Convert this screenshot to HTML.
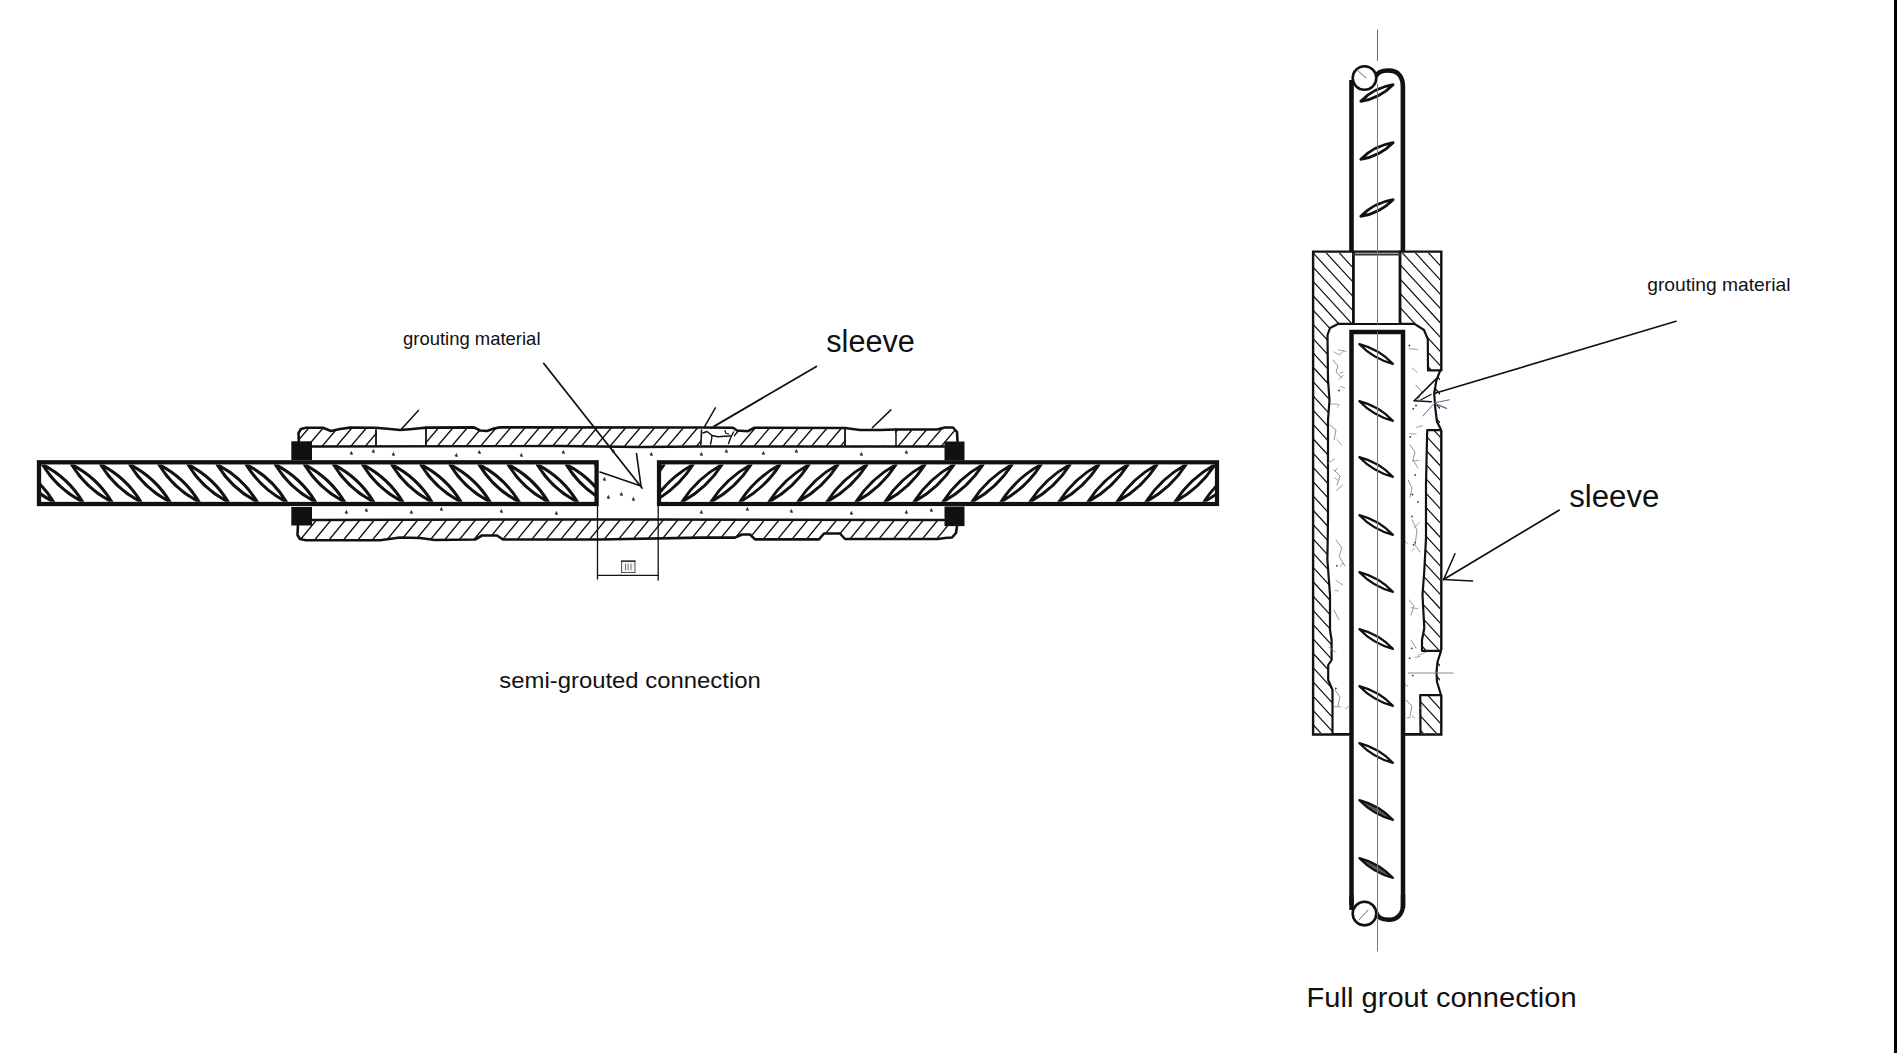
<!DOCTYPE html><html><head><meta charset="utf-8"><style>html,body{margin:0;padding:0;background:#fff;overflow:hidden;width:1897px;height:1053px;}svg{display:block}text{font-family:"Liberation Sans",sans-serif;fill:#111}</style></head><body>
<svg width="1897" height="1053" viewBox="0 0 1897 1053">
<defs>
<clipPath id="cl1"><rect x="41" y="464.5" width="554" height="37.3"/></clipPath>
<clipPath id="cl2"><rect x="661" y="464.5" width="554" height="37.3"/></clipPath>
<clipPath id="ctop"><path d="M299,446 L298.5,433 L301,429 L306,427.8 L323,427.7 L331,431 L340,429 L350,427.6 L375.4,427.8 L390,429 L400,430 L410,429.2 L420,428.2 L426,427.6 L474,427.4 L480,430.5 L487,431 L494,428.5 L500,427.4 L700,427.5 L733,427.7 L737,430.5 L748,431.2 L754,427.8 L845,428 L860,430 L880,430 L896,429.5 L937,429.5 L945,427.5 L953,427.5 L957,432 L957.5,441 L957.5,441 L944,446.5 L700,446.5 L640,447 L560,446 L312,446.5 L299,446Z"/></clipPath>
<clipPath id="cbot"><path d="M298,524 L297.5,535 L300,539 L306,540.3 L380,540.3 L400,537.5 L420,538 L435,540 L475,539.5 L482,535.5 L497,535.5 L503,539.5 L600,539.5 L700,537.6 L735,537.6 L742,534.5 L750,534.5 L755,539.4 L819,539.4 L824,533.5 L840,533.5 L845,539 L938,539 L945,538 L952,537.5 L956,533 L957,526 L957,526 L944,520 L640,519.5 L520,519.5 L312,520 L298,524Z"/></clipPath>
<clipPath id="crtL"><path d="M1314,253 L1377,253 L1377,733 L1314,733 Z"/></clipPath>
<clipPath id="crtR"><path d="M1377,253 L1440,253 L1440,733 L1377,733 Z"/></clipPath>
</defs>
<rect width="1897" height="1053" fill="#fff"/>
<rect x="1894" y="0" width="3" height="1053" fill="#000"/>
<g clip-path="url(#ctop)"><line x1="219.8" y1="448.0" x2="236.8" y2="428.0" stroke="#111" stroke-width="1.35" stroke-linecap="round" /><line x1="234.2" y1="448.0" x2="251.2" y2="428.0" stroke="#111" stroke-width="1.35" stroke-linecap="round" /><line x1="248.6" y1="448.0" x2="265.6" y2="428.0" stroke="#111" stroke-width="1.35" stroke-linecap="round" /><line x1="262.9" y1="448.0" x2="279.9" y2="428.0" stroke="#111" stroke-width="1.35" stroke-linecap="round" /><line x1="277.4" y1="448.0" x2="294.4" y2="428.0" stroke="#111" stroke-width="1.35" stroke-linecap="round" /><line x1="291.8" y1="448.0" x2="308.8" y2="428.0" stroke="#111" stroke-width="1.35" stroke-linecap="round" /><line x1="306.1" y1="448.0" x2="323.1" y2="428.0" stroke="#111" stroke-width="1.35" stroke-linecap="round" /><line x1="320.6" y1="448.0" x2="337.6" y2="428.0" stroke="#111" stroke-width="1.35" stroke-linecap="round" /><line x1="334.9" y1="448.0" x2="351.9" y2="428.0" stroke="#111" stroke-width="1.35" stroke-linecap="round" /><line x1="349.4" y1="448.0" x2="366.4" y2="428.0" stroke="#111" stroke-width="1.35" stroke-linecap="round" /><line x1="363.8" y1="448.0" x2="380.8" y2="428.0" stroke="#111" stroke-width="1.35" stroke-linecap="round" /><line x1="378.1" y1="448.0" x2="395.1" y2="428.0" stroke="#111" stroke-width="1.35" stroke-linecap="round" /><line x1="392.6" y1="448.0" x2="409.6" y2="428.0" stroke="#111" stroke-width="1.35" stroke-linecap="round" /><line x1="406.9" y1="448.0" x2="423.9" y2="428.0" stroke="#111" stroke-width="1.35" stroke-linecap="round" /><line x1="421.4" y1="448.0" x2="438.4" y2="428.0" stroke="#111" stroke-width="1.35" stroke-linecap="round" /><line x1="435.8" y1="448.0" x2="452.8" y2="428.0" stroke="#111" stroke-width="1.35" stroke-linecap="round" /><line x1="450.1" y1="448.0" x2="467.1" y2="428.0" stroke="#111" stroke-width="1.35" stroke-linecap="round" /><line x1="464.6" y1="448.0" x2="481.6" y2="428.0" stroke="#111" stroke-width="1.35" stroke-linecap="round" /><line x1="479.0" y1="448.0" x2="496.0" y2="428.0" stroke="#111" stroke-width="1.35" stroke-linecap="round" /><line x1="493.4" y1="448.0" x2="510.4" y2="428.0" stroke="#111" stroke-width="1.35" stroke-linecap="round" /><line x1="507.8" y1="448.0" x2="524.8" y2="428.0" stroke="#111" stroke-width="1.35" stroke-linecap="round" /><line x1="522.1" y1="448.0" x2="539.1" y2="428.0" stroke="#111" stroke-width="1.35" stroke-linecap="round" /><line x1="536.5" y1="448.0" x2="553.5" y2="428.0" stroke="#111" stroke-width="1.35" stroke-linecap="round" /><line x1="551.0" y1="448.0" x2="568.0" y2="428.0" stroke="#111" stroke-width="1.35" stroke-linecap="round" /><line x1="565.4" y1="448.0" x2="582.4" y2="428.0" stroke="#111" stroke-width="1.35" stroke-linecap="round" /><line x1="579.8" y1="448.0" x2="596.8" y2="428.0" stroke="#111" stroke-width="1.35" stroke-linecap="round" /><line x1="594.2" y1="448.0" x2="611.2" y2="428.0" stroke="#111" stroke-width="1.35" stroke-linecap="round" /><line x1="608.5" y1="448.0" x2="625.5" y2="428.0" stroke="#111" stroke-width="1.35" stroke-linecap="round" /><line x1="623.0" y1="448.0" x2="640.0" y2="428.0" stroke="#111" stroke-width="1.35" stroke-linecap="round" /><line x1="637.4" y1="448.0" x2="654.4" y2="428.0" stroke="#111" stroke-width="1.35" stroke-linecap="round" /><line x1="651.8" y1="448.0" x2="668.8" y2="428.0" stroke="#111" stroke-width="1.35" stroke-linecap="round" /><line x1="666.2" y1="448.0" x2="683.2" y2="428.0" stroke="#111" stroke-width="1.35" stroke-linecap="round" /><line x1="680.5" y1="448.0" x2="697.5" y2="428.0" stroke="#111" stroke-width="1.35" stroke-linecap="round" /><line x1="695.0" y1="448.0" x2="712.0" y2="428.0" stroke="#111" stroke-width="1.35" stroke-linecap="round" /><line x1="709.4" y1="448.0" x2="726.4" y2="428.0" stroke="#111" stroke-width="1.35" stroke-linecap="round" /><line x1="723.8" y1="448.0" x2="740.8" y2="428.0" stroke="#111" stroke-width="1.35" stroke-linecap="round" /><line x1="738.2" y1="448.0" x2="755.2" y2="428.0" stroke="#111" stroke-width="1.35" stroke-linecap="round" /><line x1="752.5" y1="448.0" x2="769.5" y2="428.0" stroke="#111" stroke-width="1.35" stroke-linecap="round" /><line x1="767.0" y1="448.0" x2="784.0" y2="428.0" stroke="#111" stroke-width="1.35" stroke-linecap="round" /><line x1="781.4" y1="448.0" x2="798.4" y2="428.0" stroke="#111" stroke-width="1.35" stroke-linecap="round" /><line x1="795.8" y1="448.0" x2="812.8" y2="428.0" stroke="#111" stroke-width="1.35" stroke-linecap="round" /><line x1="810.1" y1="448.0" x2="827.1" y2="428.0" stroke="#111" stroke-width="1.35" stroke-linecap="round" /><line x1="824.6" y1="448.0" x2="841.6" y2="428.0" stroke="#111" stroke-width="1.35" stroke-linecap="round" /><line x1="839.0" y1="448.0" x2="856.0" y2="428.0" stroke="#111" stroke-width="1.35" stroke-linecap="round" /><line x1="853.4" y1="448.0" x2="870.4" y2="428.0" stroke="#111" stroke-width="1.35" stroke-linecap="round" /><line x1="867.8" y1="448.0" x2="884.8" y2="428.0" stroke="#111" stroke-width="1.35" stroke-linecap="round" /><line x1="882.1" y1="448.0" x2="899.1" y2="428.0" stroke="#111" stroke-width="1.35" stroke-linecap="round" /><line x1="896.6" y1="448.0" x2="913.6" y2="428.0" stroke="#111" stroke-width="1.35" stroke-linecap="round" /><line x1="911.0" y1="448.0" x2="928.0" y2="428.0" stroke="#111" stroke-width="1.35" stroke-linecap="round" /><line x1="925.4" y1="448.0" x2="942.4" y2="428.0" stroke="#111" stroke-width="1.35" stroke-linecap="round" /><line x1="939.8" y1="448.0" x2="956.8" y2="428.0" stroke="#111" stroke-width="1.35" stroke-linecap="round" /><line x1="954.1" y1="448.0" x2="971.1" y2="428.0" stroke="#111" stroke-width="1.35" stroke-linecap="round" /><line x1="968.6" y1="448.0" x2="985.6" y2="428.0" stroke="#111" stroke-width="1.35" stroke-linecap="round" /><line x1="983.0" y1="448.0" x2="1000.0" y2="428.0" stroke="#111" stroke-width="1.35" stroke-linecap="round" /><line x1="997.4" y1="448.0" x2="1014.4" y2="428.0" stroke="#111" stroke-width="1.35" stroke-linecap="round" /><line x1="1011.8" y1="448.0" x2="1028.8" y2="428.0" stroke="#111" stroke-width="1.35" stroke-linecap="round" /><line x1="1026.2" y1="448.0" x2="1043.2" y2="428.0" stroke="#111" stroke-width="1.35" stroke-linecap="round" /><line x1="1040.6" y1="448.0" x2="1057.6" y2="428.0" stroke="#111" stroke-width="1.35" stroke-linecap="round" /><line x1="1055.0" y1="448.0" x2="1072.0" y2="428.0" stroke="#111" stroke-width="1.35" stroke-linecap="round" /><line x1="1069.3" y1="448.0" x2="1086.3" y2="428.0" stroke="#111" stroke-width="1.35" stroke-linecap="round" /><line x1="1083.8" y1="448.0" x2="1100.8" y2="428.0" stroke="#111" stroke-width="1.35" stroke-linecap="round" /><line x1="1098.2" y1="448.0" x2="1115.2" y2="428.0" stroke="#111" stroke-width="1.35" stroke-linecap="round" /><line x1="1112.6" y1="448.0" x2="1129.6" y2="428.0" stroke="#111" stroke-width="1.35" stroke-linecap="round" /><line x1="1127.0" y1="448.0" x2="1144.0" y2="428.0" stroke="#111" stroke-width="1.35" stroke-linecap="round" /><line x1="1141.3" y1="448.0" x2="1158.3" y2="428.0" stroke="#111" stroke-width="1.35" stroke-linecap="round" /></g>
<g clip-path="url(#cbot)"><line x1="212.6" y1="541.0" x2="230.6" y2="519.0" stroke="#111" stroke-width="1.35" stroke-linecap="round" /><line x1="227.1" y1="541.0" x2="245.1" y2="519.0" stroke="#111" stroke-width="1.35" stroke-linecap="round" /><line x1="241.5" y1="541.0" x2="259.5" y2="519.0" stroke="#111" stroke-width="1.35" stroke-linecap="round" /><line x1="256.0" y1="541.0" x2="274.0" y2="519.0" stroke="#111" stroke-width="1.35" stroke-linecap="round" /><line x1="270.4" y1="541.0" x2="288.4" y2="519.0" stroke="#111" stroke-width="1.35" stroke-linecap="round" /><line x1="284.9" y1="541.0" x2="302.9" y2="519.0" stroke="#111" stroke-width="1.35" stroke-linecap="round" /><line x1="299.3" y1="541.0" x2="317.3" y2="519.0" stroke="#111" stroke-width="1.35" stroke-linecap="round" /><line x1="313.8" y1="541.0" x2="331.8" y2="519.0" stroke="#111" stroke-width="1.35" stroke-linecap="round" /><line x1="328.2" y1="541.0" x2="346.2" y2="519.0" stroke="#111" stroke-width="1.35" stroke-linecap="round" /><line x1="342.7" y1="541.0" x2="360.7" y2="519.0" stroke="#111" stroke-width="1.35" stroke-linecap="round" /><line x1="357.1" y1="541.0" x2="375.1" y2="519.0" stroke="#111" stroke-width="1.35" stroke-linecap="round" /><line x1="371.6" y1="541.0" x2="389.6" y2="519.0" stroke="#111" stroke-width="1.35" stroke-linecap="round" /><line x1="386.0" y1="541.0" x2="404.0" y2="519.0" stroke="#111" stroke-width="1.35" stroke-linecap="round" /><line x1="400.5" y1="541.0" x2="418.5" y2="519.0" stroke="#111" stroke-width="1.35" stroke-linecap="round" /><line x1="414.9" y1="541.0" x2="432.9" y2="519.0" stroke="#111" stroke-width="1.35" stroke-linecap="round" /><line x1="429.4" y1="541.0" x2="447.4" y2="519.0" stroke="#111" stroke-width="1.35" stroke-linecap="round" /><line x1="443.8" y1="541.0" x2="461.8" y2="519.0" stroke="#111" stroke-width="1.35" stroke-linecap="round" /><line x1="458.3" y1="541.0" x2="476.3" y2="519.0" stroke="#111" stroke-width="1.35" stroke-linecap="round" /><line x1="472.8" y1="541.0" x2="490.8" y2="519.0" stroke="#111" stroke-width="1.35" stroke-linecap="round" /><line x1="487.2" y1="541.0" x2="505.2" y2="519.0" stroke="#111" stroke-width="1.35" stroke-linecap="round" /><line x1="501.6" y1="541.0" x2="519.6" y2="519.0" stroke="#111" stroke-width="1.35" stroke-linecap="round" /><line x1="516.1" y1="541.0" x2="534.1" y2="519.0" stroke="#111" stroke-width="1.35" stroke-linecap="round" /><line x1="530.5" y1="541.0" x2="548.5" y2="519.0" stroke="#111" stroke-width="1.35" stroke-linecap="round" /><line x1="545.0" y1="541.0" x2="563.0" y2="519.0" stroke="#111" stroke-width="1.35" stroke-linecap="round" /><line x1="559.5" y1="541.0" x2="577.5" y2="519.0" stroke="#111" stroke-width="1.35" stroke-linecap="round" /><line x1="573.9" y1="541.0" x2="591.9" y2="519.0" stroke="#111" stroke-width="1.35" stroke-linecap="round" /><line x1="588.3" y1="541.0" x2="606.3" y2="519.0" stroke="#111" stroke-width="1.35" stroke-linecap="round" /><line x1="602.8" y1="541.0" x2="620.8" y2="519.0" stroke="#111" stroke-width="1.35" stroke-linecap="round" /><line x1="617.2" y1="541.0" x2="635.2" y2="519.0" stroke="#111" stroke-width="1.35" stroke-linecap="round" /><line x1="631.7" y1="541.0" x2="649.7" y2="519.0" stroke="#111" stroke-width="1.35" stroke-linecap="round" /><line x1="646.1" y1="541.0" x2="664.1" y2="519.0" stroke="#111" stroke-width="1.35" stroke-linecap="round" /><line x1="660.6" y1="541.0" x2="678.6" y2="519.0" stroke="#111" stroke-width="1.35" stroke-linecap="round" /><line x1="675.0" y1="541.0" x2="693.0" y2="519.0" stroke="#111" stroke-width="1.35" stroke-linecap="round" /><line x1="689.5" y1="541.0" x2="707.5" y2="519.0" stroke="#111" stroke-width="1.35" stroke-linecap="round" /><line x1="703.9" y1="541.0" x2="721.9" y2="519.0" stroke="#111" stroke-width="1.35" stroke-linecap="round" /><line x1="718.4" y1="541.0" x2="736.4" y2="519.0" stroke="#111" stroke-width="1.35" stroke-linecap="round" /><line x1="732.8" y1="541.0" x2="750.8" y2="519.0" stroke="#111" stroke-width="1.35" stroke-linecap="round" /><line x1="747.3" y1="541.0" x2="765.3" y2="519.0" stroke="#111" stroke-width="1.35" stroke-linecap="round" /><line x1="761.8" y1="541.0" x2="779.8" y2="519.0" stroke="#111" stroke-width="1.35" stroke-linecap="round" /><line x1="776.2" y1="541.0" x2="794.2" y2="519.0" stroke="#111" stroke-width="1.35" stroke-linecap="round" /><line x1="790.6" y1="541.0" x2="808.6" y2="519.0" stroke="#111" stroke-width="1.35" stroke-linecap="round" /><line x1="805.1" y1="541.0" x2="823.1" y2="519.0" stroke="#111" stroke-width="1.35" stroke-linecap="round" /><line x1="819.5" y1="541.0" x2="837.5" y2="519.0" stroke="#111" stroke-width="1.35" stroke-linecap="round" /><line x1="834.0" y1="541.0" x2="852.0" y2="519.0" stroke="#111" stroke-width="1.35" stroke-linecap="round" /><line x1="848.4" y1="541.0" x2="866.4" y2="519.0" stroke="#111" stroke-width="1.35" stroke-linecap="round" /><line x1="862.9" y1="541.0" x2="880.9" y2="519.0" stroke="#111" stroke-width="1.35" stroke-linecap="round" /><line x1="877.3" y1="541.0" x2="895.3" y2="519.0" stroke="#111" stroke-width="1.35" stroke-linecap="round" /><line x1="891.8" y1="541.0" x2="909.8" y2="519.0" stroke="#111" stroke-width="1.35" stroke-linecap="round" /><line x1="906.2" y1="541.0" x2="924.2" y2="519.0" stroke="#111" stroke-width="1.35" stroke-linecap="round" /><line x1="920.7" y1="541.0" x2="938.7" y2="519.0" stroke="#111" stroke-width="1.35" stroke-linecap="round" /><line x1="935.1" y1="541.0" x2="953.1" y2="519.0" stroke="#111" stroke-width="1.35" stroke-linecap="round" /><line x1="949.6" y1="541.0" x2="967.6" y2="519.0" stroke="#111" stroke-width="1.35" stroke-linecap="round" /><line x1="964.0" y1="541.0" x2="982.0" y2="519.0" stroke="#111" stroke-width="1.35" stroke-linecap="round" /><line x1="978.5" y1="541.0" x2="996.5" y2="519.0" stroke="#111" stroke-width="1.35" stroke-linecap="round" /><line x1="992.9" y1="541.0" x2="1010.9" y2="519.0" stroke="#111" stroke-width="1.35" stroke-linecap="round" /><line x1="1007.4" y1="541.0" x2="1025.4" y2="519.0" stroke="#111" stroke-width="1.35" stroke-linecap="round" /><line x1="1021.8" y1="541.0" x2="1039.8" y2="519.0" stroke="#111" stroke-width="1.35" stroke-linecap="round" /><line x1="1036.3" y1="541.0" x2="1054.3" y2="519.0" stroke="#111" stroke-width="1.35" stroke-linecap="round" /><line x1="1050.8" y1="541.0" x2="1068.8" y2="519.0" stroke="#111" stroke-width="1.35" stroke-linecap="round" /><line x1="1065.2" y1="541.0" x2="1083.2" y2="519.0" stroke="#111" stroke-width="1.35" stroke-linecap="round" /><line x1="1079.7" y1="541.0" x2="1097.7" y2="519.0" stroke="#111" stroke-width="1.35" stroke-linecap="round" /><line x1="1094.1" y1="541.0" x2="1112.1" y2="519.0" stroke="#111" stroke-width="1.35" stroke-linecap="round" /><line x1="1108.5" y1="541.0" x2="1126.5" y2="519.0" stroke="#111" stroke-width="1.35" stroke-linecap="round" /><line x1="1123.0" y1="541.0" x2="1141.0" y2="519.0" stroke="#111" stroke-width="1.35" stroke-linecap="round" /><line x1="1137.4" y1="541.0" x2="1155.4" y2="519.0" stroke="#111" stroke-width="1.35" stroke-linecap="round" /></g>
<rect x="377" y="429" width="48" height="16.5" fill="#fff"/>
<rect x="846" y="429" width="49" height="16.5" fill="#fff"/>
<rect x="701" y="429" width="33" height="16.5" fill="#fff"/>
<line x1="376.0" y1="430.0" x2="376.0" y2="446.0" stroke="#111" stroke-width="1.8" stroke-linecap="round" /><line x1="426.0" y1="428.0" x2="426.0" y2="446.0" stroke="#111" stroke-width="1.8" stroke-linecap="round" />
<line x1="845.0" y1="428.0" x2="845.0" y2="446.0" stroke="#111" stroke-width="1.8" stroke-linecap="round" /><line x1="896.0" y1="429.0" x2="896.0" y2="446.0" stroke="#111" stroke-width="1.5" stroke-linecap="round" />
<path d="M701.5,430.0 L701.3,437.0 L700.8,444.5" fill="none" stroke="#111" stroke-width="1.6" stroke-linejoin="round" stroke-linecap="round"/>
<path d="M703.0,433.0 L707.0,431.5 L709.0,433.0 L712.0,435.5 L718.0,436.8 L725.0,436.2 L731.0,436.0" fill="none" stroke="#111" stroke-width="1.4" stroke-linejoin="round" stroke-linecap="round"/>
<path d="M712.0,435.5 L711.5,440.0 L710.5,444.0" fill="none" stroke="#111" stroke-width="1.4" stroke-linejoin="round" stroke-linecap="round"/>
<path d="M725.0,430.5 L726.0,433.5 L729.0,434.0" fill="none" stroke="#111" stroke-width="1.2" stroke-linejoin="round" stroke-linecap="round"/>
<path d="M733.5,432.0 L731.0,437.0 L728.5,443.5" fill="none" stroke="#111" stroke-width="1.4" stroke-linejoin="round" stroke-linecap="round"/>
<path d="M299.0,446.0 L298.5,433.0 L301.0,429.0 L306.0,427.8 L323.0,427.7 L331.0,431.0 L340.0,429.0 L350.0,427.6 L375.4,427.8 L390.0,429.0 L400.0,430.0 L410.0,429.2 L420.0,428.2 L426.0,427.6 L474.0,427.4 L480.0,430.5 L487.0,431.0 L494.0,428.5 L500.0,427.4 L700.0,427.5 L733.0,427.7 L737.0,430.5 L748.0,431.2 L754.0,427.8 L845.0,428.0 L860.0,430.0 L880.0,430.0 L896.0,429.5 L937.0,429.5 L945.0,427.5 L953.0,427.5 L957.0,432.0 L957.5,441.0" fill="none" stroke="#111" stroke-width="2.6" stroke-linejoin="round" stroke-linecap="round"/>
<path d="M312.0,446.5 L560.0,446.0 L640.0,447.0 L700.0,446.5 L944.0,446.5" fill="none" stroke="#111" stroke-width="2.4" stroke-linejoin="round" stroke-linecap="round"/>
<path d="M312.0,520.0 L520.0,519.5 L640.0,519.5 L944.0,520.0" fill="none" stroke="#111" stroke-width="2.4" stroke-linejoin="round" stroke-linecap="round"/>
<path d="M298.0,524.0 L297.5,535.0 L300.0,539.0 L306.0,540.3 L380.0,540.3 L400.0,537.5 L420.0,538.0 L435.0,540.0 L475.0,539.5 L482.0,535.5 L497.0,535.5 L503.0,539.5 L600.0,539.5 L700.0,537.6 L735.0,537.6 L742.0,534.5 L750.0,534.5 L755.0,539.4 L819.0,539.4 L824.0,533.5 L840.0,533.5 L845.0,539.0 L938.0,539.0 L945.0,538.0 L952.0,537.5 L956.0,533.0 L957.0,526.0" fill="none" stroke="#111" stroke-width="2.6" stroke-linejoin="round" stroke-linecap="round"/>
<rect x="291.3" y="441.3" width="20.7" height="18.7" fill="#111"/>
<rect x="291.3" y="507" width="20.7" height="18.5" fill="#111"/>
<rect x="944.5" y="441.5" width="20" height="19" fill="#111"/>
<rect x="944.5" y="506.5" width="20" height="19.6" fill="#111"/>
<path d="M350,454 l1.5,-2.5 l1,3 z" fill="#333" stroke="#333" stroke-width="0.8"/>
<path d="M372,452 l1.5,-2.5 l1,3 z" fill="#333" stroke="#333" stroke-width="0.8"/>
<path d="M392,455 l1.5,-2.5 l1,3 z" fill="#333" stroke="#333" stroke-width="0.8"/>
<path d="M455,456 l1.5,-2.5 l1,3 z" fill="#333" stroke="#333" stroke-width="0.8"/>
<path d="M478,453 l1.5,-2.5 l1,3 z" fill="#333" stroke="#333" stroke-width="0.8"/>
<path d="M520,456 l1.5,-2.5 l1,3 z" fill="#333" stroke="#333" stroke-width="0.8"/>
<path d="M562,453 l1.5,-2.5 l1,3 z" fill="#333" stroke="#333" stroke-width="0.8"/>
<path d="M612,452 l1.5,-2.5 l1,3 z" fill="#333" stroke="#333" stroke-width="0.8"/>
<path d="M607,498 l1.5,-2.5 l1,3 z" fill="#333" stroke="#333" stroke-width="0.8"/>
<path d="M620,495 l1.5,-2.5 l1,3 z" fill="#333" stroke="#333" stroke-width="0.8"/>
<path d="M632,500 l1.5,-2.5 l1,3 z" fill="#333" stroke="#333" stroke-width="0.8"/>
<path d="M603,480 l1.5,-2.5 l1,3 z" fill="#333" stroke="#333" stroke-width="0.8"/>
<path d="M650,455 l1.5,-2.5 l1,3 z" fill="#333" stroke="#333" stroke-width="0.8"/>
<path d="M700,455 l1.5,-2.5 l1,3 z" fill="#333" stroke="#333" stroke-width="0.8"/>
<path d="M725,452 l1.5,-2.5 l1,3 z" fill="#333" stroke="#333" stroke-width="0.8"/>
<path d="M762,454 l1.5,-2.5 l1,3 z" fill="#333" stroke="#333" stroke-width="0.8"/>
<path d="M795,452 l1.5,-2.5 l1,3 z" fill="#333" stroke="#333" stroke-width="0.8"/>
<path d="M860,455 l1.5,-2.5 l1,3 z" fill="#333" stroke="#333" stroke-width="0.8"/>
<path d="M905,453 l1.5,-2.5 l1,3 z" fill="#333" stroke="#333" stroke-width="0.8"/>
<path d="M345,513 l1.5,-2.5 l1,3 z" fill="#333" stroke="#333" stroke-width="0.8"/>
<path d="M365,511 l1.5,-2.5 l1,3 z" fill="#333" stroke="#333" stroke-width="0.8"/>
<path d="M410,513 l1.5,-2.5 l1,3 z" fill="#333" stroke="#333" stroke-width="0.8"/>
<path d="M440,510 l1.5,-2.5 l1,3 z" fill="#333" stroke="#333" stroke-width="0.8"/>
<path d="M500,512 l1.5,-2.5 l1,3 z" fill="#333" stroke="#333" stroke-width="0.8"/>
<path d="M555,514 l1.5,-2.5 l1,3 z" fill="#333" stroke="#333" stroke-width="0.8"/>
<path d="M700,513 l1.5,-2.5 l1,3 z" fill="#333" stroke="#333" stroke-width="0.8"/>
<path d="M746,510 l1.5,-2.5 l1,3 z" fill="#333" stroke="#333" stroke-width="0.8"/>
<path d="M790,512 l1.5,-2.5 l1,3 z" fill="#333" stroke="#333" stroke-width="0.8"/>
<path d="M850,514 l1.5,-2.5 l1,3 z" fill="#333" stroke="#333" stroke-width="0.8"/>
<path d="M905,513 l1.5,-2.5 l1,3 z" fill="#333" stroke="#333" stroke-width="0.8"/>
<path d="M930,511 l1.5,-2.5 l1,3 z" fill="#333" stroke="#333" stroke-width="0.8"/>
<g clip-path="url(#cl1)"><path d="M13.5,464.6 Q28.2,488.9 53.5,501.8 Q38.8,477.5 13.5,464.6Z" fill="#fff" stroke="#111" stroke-width="3.1" stroke-linejoin="round"/><path d="M42.6,464.6 Q57.3,488.9 82.6,501.8 Q67.9,477.5 42.6,464.6Z" fill="#fff" stroke="#111" stroke-width="3.1" stroke-linejoin="round"/><path d="M71.7,464.6 Q86.4,488.9 111.7,501.8 Q97.0,477.5 71.7,464.6Z" fill="#fff" stroke="#111" stroke-width="3.1" stroke-linejoin="round"/><path d="M100.8,464.6 Q115.5,488.9 140.8,501.8 Q126.1,477.5 100.8,464.6Z" fill="#fff" stroke="#111" stroke-width="3.1" stroke-linejoin="round"/><path d="M129.9,464.6 Q144.6,488.9 169.9,501.8 Q155.2,477.5 129.9,464.6Z" fill="#fff" stroke="#111" stroke-width="3.1" stroke-linejoin="round"/><path d="M159.0,464.6 Q173.7,488.9 199.0,501.8 Q184.3,477.5 159.0,464.6Z" fill="#fff" stroke="#111" stroke-width="3.1" stroke-linejoin="round"/><path d="M188.1,464.6 Q202.8,488.9 228.1,501.8 Q213.4,477.5 188.1,464.6Z" fill="#fff" stroke="#111" stroke-width="3.1" stroke-linejoin="round"/><path d="M217.2,464.6 Q231.9,488.9 257.2,501.8 Q242.5,477.5 217.2,464.6Z" fill="#fff" stroke="#111" stroke-width="3.1" stroke-linejoin="round"/><path d="M246.3,464.6 Q261.0,488.9 286.3,501.8 Q271.6,477.5 246.3,464.6Z" fill="#fff" stroke="#111" stroke-width="3.1" stroke-linejoin="round"/><path d="M275.4,464.6 Q290.1,488.9 315.4,501.8 Q300.7,477.5 275.4,464.6Z" fill="#fff" stroke="#111" stroke-width="3.1" stroke-linejoin="round"/><path d="M304.5,464.6 Q319.2,488.9 344.5,501.8 Q329.8,477.5 304.5,464.6Z" fill="#fff" stroke="#111" stroke-width="3.1" stroke-linejoin="round"/><path d="M333.6,464.6 Q348.3,488.9 373.6,501.8 Q358.9,477.5 333.6,464.6Z" fill="#fff" stroke="#111" stroke-width="3.1" stroke-linejoin="round"/><path d="M362.7,464.6 Q377.4,488.9 402.7,501.8 Q388.0,477.5 362.7,464.6Z" fill="#fff" stroke="#111" stroke-width="3.1" stroke-linejoin="round"/><path d="M391.8,464.6 Q406.5,488.9 431.8,501.8 Q417.1,477.5 391.8,464.6Z" fill="#fff" stroke="#111" stroke-width="3.1" stroke-linejoin="round"/><path d="M420.9,464.6 Q435.6,488.9 460.9,501.8 Q446.2,477.5 420.9,464.6Z" fill="#fff" stroke="#111" stroke-width="3.1" stroke-linejoin="round"/><path d="M450.0,464.6 Q464.7,488.9 490.0,501.8 Q475.3,477.5 450.0,464.6Z" fill="#fff" stroke="#111" stroke-width="3.1" stroke-linejoin="round"/><path d="M479.1,464.6 Q493.8,488.9 519.1,501.8 Q504.4,477.5 479.1,464.6Z" fill="#fff" stroke="#111" stroke-width="3.1" stroke-linejoin="round"/><path d="M508.2,464.6 Q522.9,488.9 548.2,501.8 Q533.5,477.5 508.2,464.6Z" fill="#fff" stroke="#111" stroke-width="3.1" stroke-linejoin="round"/><path d="M537.3,464.6 Q552.0,488.9 577.3,501.8 Q562.6,477.5 537.3,464.6Z" fill="#fff" stroke="#111" stroke-width="3.1" stroke-linejoin="round"/><path d="M566.4,464.6 Q581.1,488.9 606.4,501.8 Q591.7,477.5 566.4,464.6Z" fill="#fff" stroke="#111" stroke-width="3.1" stroke-linejoin="round"/><path d="M595.5,464.6 Q610.2,488.9 635.5,501.8 Q620.8,477.5 595.5,464.6Z" fill="#fff" stroke="#111" stroke-width="3.1" stroke-linejoin="round"/></g>
<g clip-path="url(#cl2)"><path d="M624.0,501.8 Q648.8,488.3 664.0,464.6 Q639.2,478.1 624.0,501.8Z" fill="#fff" stroke="#111" stroke-width="2.9" stroke-linejoin="round"/><path d="M653.0,501.8 Q677.8,488.3 693.0,464.6 Q668.2,478.1 653.0,501.8Z" fill="#fff" stroke="#111" stroke-width="2.9" stroke-linejoin="round"/><path d="M682.0,501.8 Q706.8,488.3 722.0,464.6 Q697.2,478.1 682.0,501.8Z" fill="#fff" stroke="#111" stroke-width="2.9" stroke-linejoin="round"/><path d="M711.0,501.8 Q735.8,488.3 751.0,464.6 Q726.2,478.1 711.0,501.8Z" fill="#fff" stroke="#111" stroke-width="2.9" stroke-linejoin="round"/><path d="M740.0,501.8 Q764.8,488.3 780.0,464.6 Q755.2,478.1 740.0,501.8Z" fill="#fff" stroke="#111" stroke-width="2.9" stroke-linejoin="round"/><path d="M769.0,501.8 Q793.8,488.3 809.0,464.6 Q784.2,478.1 769.0,501.8Z" fill="#fff" stroke="#111" stroke-width="2.9" stroke-linejoin="round"/><path d="M798.0,501.8 Q822.8,488.3 838.0,464.6 Q813.2,478.1 798.0,501.8Z" fill="#fff" stroke="#111" stroke-width="2.9" stroke-linejoin="round"/><path d="M827.0,501.8 Q851.8,488.3 867.0,464.6 Q842.2,478.1 827.0,501.8Z" fill="#fff" stroke="#111" stroke-width="2.9" stroke-linejoin="round"/><path d="M856.0,501.8 Q880.8,488.3 896.0,464.6 Q871.2,478.1 856.0,501.8Z" fill="#fff" stroke="#111" stroke-width="2.9" stroke-linejoin="round"/><path d="M885.0,501.8 Q909.8,488.3 925.0,464.6 Q900.2,478.1 885.0,501.8Z" fill="#fff" stroke="#111" stroke-width="2.9" stroke-linejoin="round"/><path d="M914.0,501.8 Q938.8,488.3 954.0,464.6 Q929.2,478.1 914.0,501.8Z" fill="#fff" stroke="#111" stroke-width="2.9" stroke-linejoin="round"/><path d="M943.0,501.8 Q967.8,488.3 983.0,464.6 Q958.2,478.1 943.0,501.8Z" fill="#fff" stroke="#111" stroke-width="2.9" stroke-linejoin="round"/><path d="M972.0,501.8 Q996.8,488.3 1012.0,464.6 Q987.2,478.1 972.0,501.8Z" fill="#fff" stroke="#111" stroke-width="2.9" stroke-linejoin="round"/><path d="M1001.0,501.8 Q1025.8,488.3 1041.0,464.6 Q1016.2,478.1 1001.0,501.8Z" fill="#fff" stroke="#111" stroke-width="2.9" stroke-linejoin="round"/><path d="M1030.0,501.8 Q1054.8,488.3 1070.0,464.6 Q1045.2,478.1 1030.0,501.8Z" fill="#fff" stroke="#111" stroke-width="2.9" stroke-linejoin="round"/><path d="M1059.0,501.8 Q1083.8,488.3 1099.0,464.6 Q1074.2,478.1 1059.0,501.8Z" fill="#fff" stroke="#111" stroke-width="2.9" stroke-linejoin="round"/><path d="M1088.0,501.8 Q1112.8,488.3 1128.0,464.6 Q1103.2,478.1 1088.0,501.8Z" fill="#fff" stroke="#111" stroke-width="2.9" stroke-linejoin="round"/><path d="M1117.0,501.8 Q1141.8,488.3 1157.0,464.6 Q1132.2,478.1 1117.0,501.8Z" fill="#fff" stroke="#111" stroke-width="2.9" stroke-linejoin="round"/><path d="M1146.0,501.8 Q1170.8,488.3 1186.0,464.6 Q1161.2,478.1 1146.0,501.8Z" fill="#fff" stroke="#111" stroke-width="2.9" stroke-linejoin="round"/><path d="M1175.0,501.8 Q1199.8,488.3 1215.0,464.6 Q1190.2,478.1 1175.0,501.8Z" fill="#fff" stroke="#111" stroke-width="2.9" stroke-linejoin="round"/><path d="M1204.0,501.8 Q1228.8,488.3 1244.0,464.6 Q1219.2,478.1 1204.0,501.8Z" fill="#fff" stroke="#111" stroke-width="2.9" stroke-linejoin="round"/><path d="M1233.0,501.8 Q1257.8,488.3 1273.0,464.6 Q1248.2,478.1 1233.0,501.8Z" fill="#fff" stroke="#111" stroke-width="2.9" stroke-linejoin="round"/></g>
<rect x="39" y="462.3" width="557.6" height="41.7" fill="none" stroke="#111" stroke-width="4.3"/>
<rect x="659" y="462.3" width="558" height="41.7" fill="none" stroke="#111" stroke-width="4.2"/>
<line x1="597.5" y1="506.0" x2="597.5" y2="579.0" stroke="#111" stroke-width="1.3" stroke-linecap="round" /><line x1="658.2" y1="506.0" x2="658.2" y2="580.0" stroke="#111" stroke-width="1.3" stroke-linecap="round" /><line x1="597.5" y1="575.3" x2="658.2" y2="575.3" stroke="#111" stroke-width="1.3" stroke-linecap="round" />
<rect x="621.5" y="561" width="13.5" height="11.5" fill="#f4f4f4" stroke="#555" stroke-width="1"/>
<line x1="621.5" y1="561.2" x2="635.0" y2="561.2" stroke="#333" stroke-width="1.4" stroke-linecap="round" /><line x1="625.5" y1="564.0" x2="625.5" y2="570.0" stroke="#666" stroke-width="0.9" stroke-linecap="round" /><line x1="628.0" y1="564.0" x2="628.0" y2="570.0" stroke="#666" stroke-width="0.9" stroke-linecap="round" /><line x1="631.0" y1="564.0" x2="631.0" y2="570.0" stroke="#666" stroke-width="0.9" stroke-linecap="round" />
<line x1="543.8" y1="363.5" x2="642.0" y2="488.0" stroke="#111" stroke-width="1.8" stroke-linecap="round" />
<line x1="600.0" y1="472.0" x2="641.0" y2="486.0" stroke="#111" stroke-width="1.6" stroke-linecap="round" /><line x1="636.5" y1="453.6" x2="641.0" y2="486.0" stroke="#111" stroke-width="1.6" stroke-linecap="round" />
<line x1="816.4" y1="366.5" x2="714.0" y2="426.4" stroke="#111" stroke-width="1.8" stroke-linecap="round" />
<line x1="418.4" y1="410.4" x2="401.5" y2="428.9" stroke="#111" stroke-width="1.5" stroke-linecap="round" /><line x1="715.4" y1="407.8" x2="704.7" y2="426.4" stroke="#111" stroke-width="1.5" stroke-linecap="round" /><line x1="890.9" y1="409.9" x2="872.3" y2="427.7" stroke="#111" stroke-width="1.5" stroke-linecap="round" />
<text x="403" y="345" font-size="17.8" textLength="137.5" lengthAdjust="spacingAndGlyphs">grouting material</text>
<text x="826.3" y="352" font-size="30.8" textLength="88.5" lengthAdjust="spacingAndGlyphs">sleeve</text>
<text x="499.3" y="688" font-size="22" textLength="261.5" lengthAdjust="spacingAndGlyphs">semi-grouted connection</text>
<g clip-path="url(#crtL)"><line x1="1300.0" y1="-319.1" x2="1380.0" y2="-231.9" stroke="#111" stroke-width="1.2" stroke-linecap="round" /><line x1="1300.0" y1="-304.8" x2="1380.0" y2="-217.6" stroke="#111" stroke-width="1.2" stroke-linecap="round" /><line x1="1300.0" y1="-290.5" x2="1380.0" y2="-203.3" stroke="#111" stroke-width="1.2" stroke-linecap="round" /><line x1="1300.0" y1="-276.2" x2="1380.0" y2="-189.0" stroke="#111" stroke-width="1.2" stroke-linecap="round" /><line x1="1300.0" y1="-261.9" x2="1380.0" y2="-174.7" stroke="#111" stroke-width="1.2" stroke-linecap="round" /><line x1="1300.0" y1="-247.6" x2="1380.0" y2="-160.4" stroke="#111" stroke-width="1.2" stroke-linecap="round" /><line x1="1300.0" y1="-233.3" x2="1380.0" y2="-146.1" stroke="#111" stroke-width="1.2" stroke-linecap="round" /><line x1="1300.0" y1="-219.0" x2="1380.0" y2="-131.8" stroke="#111" stroke-width="1.2" stroke-linecap="round" /><line x1="1300.0" y1="-204.7" x2="1380.0" y2="-117.5" stroke="#111" stroke-width="1.2" stroke-linecap="round" /><line x1="1300.0" y1="-190.4" x2="1380.0" y2="-103.2" stroke="#111" stroke-width="1.2" stroke-linecap="round" /><line x1="1300.0" y1="-176.1" x2="1380.0" y2="-88.9" stroke="#111" stroke-width="1.2" stroke-linecap="round" /><line x1="1300.0" y1="-161.8" x2="1380.0" y2="-74.6" stroke="#111" stroke-width="1.2" stroke-linecap="round" /><line x1="1300.0" y1="-147.5" x2="1380.0" y2="-60.3" stroke="#111" stroke-width="1.2" stroke-linecap="round" /><line x1="1300.0" y1="-133.2" x2="1380.0" y2="-46.0" stroke="#111" stroke-width="1.2" stroke-linecap="round" /><line x1="1300.0" y1="-118.9" x2="1380.0" y2="-31.7" stroke="#111" stroke-width="1.2" stroke-linecap="round" /><line x1="1300.0" y1="-104.6" x2="1380.0" y2="-17.4" stroke="#111" stroke-width="1.2" stroke-linecap="round" /><line x1="1300.0" y1="-90.3" x2="1380.0" y2="-3.1" stroke="#111" stroke-width="1.2" stroke-linecap="round" /><line x1="1300.0" y1="-76.0" x2="1380.0" y2="11.2" stroke="#111" stroke-width="1.2" stroke-linecap="round" /><line x1="1300.0" y1="-61.7" x2="1380.0" y2="25.5" stroke="#111" stroke-width="1.2" stroke-linecap="round" /><line x1="1300.0" y1="-47.4" x2="1380.0" y2="39.8" stroke="#111" stroke-width="1.2" stroke-linecap="round" /><line x1="1300.0" y1="-33.1" x2="1380.0" y2="54.1" stroke="#111" stroke-width="1.2" stroke-linecap="round" /><line x1="1300.0" y1="-18.8" x2="1380.0" y2="68.4" stroke="#111" stroke-width="1.2" stroke-linecap="round" /><line x1="1300.0" y1="-4.5" x2="1380.0" y2="82.7" stroke="#111" stroke-width="1.2" stroke-linecap="round" /><line x1="1300.0" y1="9.8" x2="1380.0" y2="97.0" stroke="#111" stroke-width="1.2" stroke-linecap="round" /><line x1="1300.0" y1="24.1" x2="1380.0" y2="111.3" stroke="#111" stroke-width="1.2" stroke-linecap="round" /><line x1="1300.0" y1="38.4" x2="1380.0" y2="125.6" stroke="#111" stroke-width="1.2" stroke-linecap="round" /><line x1="1300.0" y1="52.7" x2="1380.0" y2="139.9" stroke="#111" stroke-width="1.2" stroke-linecap="round" /><line x1="1300.0" y1="67.0" x2="1380.0" y2="154.2" stroke="#111" stroke-width="1.2" stroke-linecap="round" /><line x1="1300.0" y1="81.3" x2="1380.0" y2="168.5" stroke="#111" stroke-width="1.2" stroke-linecap="round" /><line x1="1300.0" y1="95.6" x2="1380.0" y2="182.8" stroke="#111" stroke-width="1.2" stroke-linecap="round" /><line x1="1300.0" y1="109.9" x2="1380.0" y2="197.1" stroke="#111" stroke-width="1.2" stroke-linecap="round" /><line x1="1300.0" y1="124.2" x2="1380.0" y2="211.4" stroke="#111" stroke-width="1.2" stroke-linecap="round" /><line x1="1300.0" y1="138.5" x2="1380.0" y2="225.7" stroke="#111" stroke-width="1.2" stroke-linecap="round" /><line x1="1300.0" y1="152.8" x2="1380.0" y2="240.0" stroke="#111" stroke-width="1.2" stroke-linecap="round" /><line x1="1300.0" y1="167.1" x2="1380.0" y2="254.3" stroke="#111" stroke-width="1.2" stroke-linecap="round" /><line x1="1300.0" y1="181.4" x2="1380.0" y2="268.6" stroke="#111" stroke-width="1.2" stroke-linecap="round" /><line x1="1300.0" y1="195.7" x2="1380.0" y2="282.9" stroke="#111" stroke-width="1.2" stroke-linecap="round" /><line x1="1300.0" y1="210.0" x2="1380.0" y2="297.2" stroke="#111" stroke-width="1.2" stroke-linecap="round" /><line x1="1300.0" y1="224.3" x2="1380.0" y2="311.5" stroke="#111" stroke-width="1.2" stroke-linecap="round" /><line x1="1300.0" y1="238.6" x2="1380.0" y2="325.8" stroke="#111" stroke-width="1.2" stroke-linecap="round" /><line x1="1300.0" y1="252.9" x2="1380.0" y2="340.1" stroke="#111" stroke-width="1.2" stroke-linecap="round" /><line x1="1300.0" y1="267.2" x2="1380.0" y2="354.4" stroke="#111" stroke-width="1.2" stroke-linecap="round" /><line x1="1300.0" y1="281.5" x2="1380.0" y2="368.7" stroke="#111" stroke-width="1.2" stroke-linecap="round" /><line x1="1300.0" y1="295.8" x2="1380.0" y2="383.0" stroke="#111" stroke-width="1.2" stroke-linecap="round" /><line x1="1300.0" y1="310.1" x2="1380.0" y2="397.3" stroke="#111" stroke-width="1.2" stroke-linecap="round" /><line x1="1300.0" y1="324.4" x2="1380.0" y2="411.6" stroke="#111" stroke-width="1.2" stroke-linecap="round" /><line x1="1300.0" y1="338.7" x2="1380.0" y2="425.9" stroke="#111" stroke-width="1.2" stroke-linecap="round" /><line x1="1300.0" y1="353.0" x2="1380.0" y2="440.2" stroke="#111" stroke-width="1.2" stroke-linecap="round" /><line x1="1300.0" y1="367.3" x2="1380.0" y2="454.5" stroke="#111" stroke-width="1.2" stroke-linecap="round" /><line x1="1300.0" y1="381.6" x2="1380.0" y2="468.8" stroke="#111" stroke-width="1.2" stroke-linecap="round" /><line x1="1300.0" y1="395.9" x2="1380.0" y2="483.1" stroke="#111" stroke-width="1.2" stroke-linecap="round" /><line x1="1300.0" y1="410.2" x2="1380.0" y2="497.4" stroke="#111" stroke-width="1.2" stroke-linecap="round" /><line x1="1300.0" y1="424.5" x2="1380.0" y2="511.7" stroke="#111" stroke-width="1.2" stroke-linecap="round" /><line x1="1300.0" y1="438.8" x2="1380.0" y2="526.0" stroke="#111" stroke-width="1.2" stroke-linecap="round" /><line x1="1300.0" y1="453.1" x2="1380.0" y2="540.3" stroke="#111" stroke-width="1.2" stroke-linecap="round" /><line x1="1300.0" y1="467.4" x2="1380.0" y2="554.6" stroke="#111" stroke-width="1.2" stroke-linecap="round" /><line x1="1300.0" y1="481.7" x2="1380.0" y2="568.9" stroke="#111" stroke-width="1.2" stroke-linecap="round" /><line x1="1300.0" y1="496.0" x2="1380.0" y2="583.2" stroke="#111" stroke-width="1.2" stroke-linecap="round" /><line x1="1300.0" y1="510.3" x2="1380.0" y2="597.5" stroke="#111" stroke-width="1.2" stroke-linecap="round" /><line x1="1300.0" y1="524.6" x2="1380.0" y2="611.8" stroke="#111" stroke-width="1.2" stroke-linecap="round" /><line x1="1300.0" y1="538.9" x2="1380.0" y2="626.1" stroke="#111" stroke-width="1.2" stroke-linecap="round" /><line x1="1300.0" y1="553.2" x2="1380.0" y2="640.4" stroke="#111" stroke-width="1.2" stroke-linecap="round" /><line x1="1300.0" y1="567.5" x2="1380.0" y2="654.7" stroke="#111" stroke-width="1.2" stroke-linecap="round" /><line x1="1300.0" y1="581.8" x2="1380.0" y2="669.0" stroke="#111" stroke-width="1.2" stroke-linecap="round" /><line x1="1300.0" y1="596.1" x2="1380.0" y2="683.3" stroke="#111" stroke-width="1.2" stroke-linecap="round" /><line x1="1300.0" y1="610.4" x2="1380.0" y2="697.6" stroke="#111" stroke-width="1.2" stroke-linecap="round" /><line x1="1300.0" y1="624.7" x2="1380.0" y2="711.9" stroke="#111" stroke-width="1.2" stroke-linecap="round" /><line x1="1300.0" y1="639.0" x2="1380.0" y2="726.2" stroke="#111" stroke-width="1.2" stroke-linecap="round" /><line x1="1300.0" y1="653.3" x2="1380.0" y2="740.5" stroke="#111" stroke-width="1.2" stroke-linecap="round" /><line x1="1300.0" y1="667.6" x2="1380.0" y2="754.8" stroke="#111" stroke-width="1.2" stroke-linecap="round" /><line x1="1300.0" y1="681.9" x2="1380.0" y2="769.1" stroke="#111" stroke-width="1.2" stroke-linecap="round" /><line x1="1300.0" y1="696.2" x2="1380.0" y2="783.4" stroke="#111" stroke-width="1.2" stroke-linecap="round" /><line x1="1300.0" y1="710.5" x2="1380.0" y2="797.7" stroke="#111" stroke-width="1.2" stroke-linecap="round" /><line x1="1300.0" y1="724.8" x2="1380.0" y2="812.0" stroke="#111" stroke-width="1.2" stroke-linecap="round" /><line x1="1300.0" y1="739.1" x2="1380.0" y2="826.3" stroke="#111" stroke-width="1.2" stroke-linecap="round" /><line x1="1300.0" y1="753.4" x2="1380.0" y2="840.6" stroke="#111" stroke-width="1.2" stroke-linecap="round" /><line x1="1300.0" y1="767.7" x2="1380.0" y2="854.9" stroke="#111" stroke-width="1.2" stroke-linecap="round" /><line x1="1300.0" y1="782.0" x2="1380.0" y2="869.2" stroke="#111" stroke-width="1.2" stroke-linecap="round" /><line x1="1300.0" y1="796.3" x2="1380.0" y2="883.5" stroke="#111" stroke-width="1.2" stroke-linecap="round" /><line x1="1300.0" y1="810.6" x2="1380.0" y2="897.8" stroke="#111" stroke-width="1.2" stroke-linecap="round" /></g>
<g clip-path="url(#crtR)"><line x1="1375.0" y1="-334.6" x2="1460.0" y2="-242.0" stroke="#111" stroke-width="1.2" stroke-linecap="round" /><line x1="1375.0" y1="-320.3" x2="1460.0" y2="-227.7" stroke="#111" stroke-width="1.2" stroke-linecap="round" /><line x1="1375.0" y1="-306.0" x2="1460.0" y2="-213.4" stroke="#111" stroke-width="1.2" stroke-linecap="round" /><line x1="1375.0" y1="-291.7" x2="1460.0" y2="-199.1" stroke="#111" stroke-width="1.2" stroke-linecap="round" /><line x1="1375.0" y1="-277.4" x2="1460.0" y2="-184.8" stroke="#111" stroke-width="1.2" stroke-linecap="round" /><line x1="1375.0" y1="-263.1" x2="1460.0" y2="-170.5" stroke="#111" stroke-width="1.2" stroke-linecap="round" /><line x1="1375.0" y1="-248.8" x2="1460.0" y2="-156.2" stroke="#111" stroke-width="1.2" stroke-linecap="round" /><line x1="1375.0" y1="-234.5" x2="1460.0" y2="-141.9" stroke="#111" stroke-width="1.2" stroke-linecap="round" /><line x1="1375.0" y1="-220.2" x2="1460.0" y2="-127.6" stroke="#111" stroke-width="1.2" stroke-linecap="round" /><line x1="1375.0" y1="-205.9" x2="1460.0" y2="-113.3" stroke="#111" stroke-width="1.2" stroke-linecap="round" /><line x1="1375.0" y1="-191.6" x2="1460.0" y2="-99.0" stroke="#111" stroke-width="1.2" stroke-linecap="round" /><line x1="1375.0" y1="-177.3" x2="1460.0" y2="-84.7" stroke="#111" stroke-width="1.2" stroke-linecap="round" /><line x1="1375.0" y1="-163.0" x2="1460.0" y2="-70.4" stroke="#111" stroke-width="1.2" stroke-linecap="round" /><line x1="1375.0" y1="-148.7" x2="1460.0" y2="-56.1" stroke="#111" stroke-width="1.2" stroke-linecap="round" /><line x1="1375.0" y1="-134.4" x2="1460.0" y2="-41.8" stroke="#111" stroke-width="1.2" stroke-linecap="round" /><line x1="1375.0" y1="-120.1" x2="1460.0" y2="-27.5" stroke="#111" stroke-width="1.2" stroke-linecap="round" /><line x1="1375.0" y1="-105.8" x2="1460.0" y2="-13.2" stroke="#111" stroke-width="1.2" stroke-linecap="round" /><line x1="1375.0" y1="-91.5" x2="1460.0" y2="1.1" stroke="#111" stroke-width="1.2" stroke-linecap="round" /><line x1="1375.0" y1="-77.2" x2="1460.0" y2="15.4" stroke="#111" stroke-width="1.2" stroke-linecap="round" /><line x1="1375.0" y1="-62.9" x2="1460.0" y2="29.7" stroke="#111" stroke-width="1.2" stroke-linecap="round" /><line x1="1375.0" y1="-48.6" x2="1460.0" y2="44.0" stroke="#111" stroke-width="1.2" stroke-linecap="round" /><line x1="1375.0" y1="-34.3" x2="1460.0" y2="58.3" stroke="#111" stroke-width="1.2" stroke-linecap="round" /><line x1="1375.0" y1="-20.0" x2="1460.0" y2="72.6" stroke="#111" stroke-width="1.2" stroke-linecap="round" /><line x1="1375.0" y1="-5.7" x2="1460.0" y2="86.9" stroke="#111" stroke-width="1.2" stroke-linecap="round" /><line x1="1375.0" y1="8.6" x2="1460.0" y2="101.2" stroke="#111" stroke-width="1.2" stroke-linecap="round" /><line x1="1375.0" y1="22.9" x2="1460.0" y2="115.5" stroke="#111" stroke-width="1.2" stroke-linecap="round" /><line x1="1375.0" y1="37.2" x2="1460.0" y2="129.8" stroke="#111" stroke-width="1.2" stroke-linecap="round" /><line x1="1375.0" y1="51.5" x2="1460.0" y2="144.1" stroke="#111" stroke-width="1.2" stroke-linecap="round" /><line x1="1375.0" y1="65.8" x2="1460.0" y2="158.4" stroke="#111" stroke-width="1.2" stroke-linecap="round" /><line x1="1375.0" y1="80.1" x2="1460.0" y2="172.7" stroke="#111" stroke-width="1.2" stroke-linecap="round" /><line x1="1375.0" y1="94.4" x2="1460.0" y2="187.0" stroke="#111" stroke-width="1.2" stroke-linecap="round" /><line x1="1375.0" y1="108.7" x2="1460.0" y2="201.3" stroke="#111" stroke-width="1.2" stroke-linecap="round" /><line x1="1375.0" y1="123.0" x2="1460.0" y2="215.6" stroke="#111" stroke-width="1.2" stroke-linecap="round" /><line x1="1375.0" y1="137.3" x2="1460.0" y2="229.9" stroke="#111" stroke-width="1.2" stroke-linecap="round" /><line x1="1375.0" y1="151.6" x2="1460.0" y2="244.2" stroke="#111" stroke-width="1.2" stroke-linecap="round" /><line x1="1375.0" y1="165.9" x2="1460.0" y2="258.5" stroke="#111" stroke-width="1.2" stroke-linecap="round" /><line x1="1375.0" y1="180.2" x2="1460.0" y2="272.8" stroke="#111" stroke-width="1.2" stroke-linecap="round" /><line x1="1375.0" y1="194.5" x2="1460.0" y2="287.1" stroke="#111" stroke-width="1.2" stroke-linecap="round" /><line x1="1375.0" y1="208.8" x2="1460.0" y2="301.4" stroke="#111" stroke-width="1.2" stroke-linecap="round" /><line x1="1375.0" y1="223.1" x2="1460.0" y2="315.7" stroke="#111" stroke-width="1.2" stroke-linecap="round" /><line x1="1375.0" y1="237.4" x2="1460.0" y2="330.0" stroke="#111" stroke-width="1.2" stroke-linecap="round" /><line x1="1375.0" y1="251.7" x2="1460.0" y2="344.3" stroke="#111" stroke-width="1.2" stroke-linecap="round" /><line x1="1375.0" y1="266.0" x2="1460.0" y2="358.6" stroke="#111" stroke-width="1.2" stroke-linecap="round" /><line x1="1375.0" y1="280.3" x2="1460.0" y2="372.9" stroke="#111" stroke-width="1.2" stroke-linecap="round" /><line x1="1375.0" y1="294.6" x2="1460.0" y2="387.2" stroke="#111" stroke-width="1.2" stroke-linecap="round" /><line x1="1375.0" y1="308.9" x2="1460.0" y2="401.5" stroke="#111" stroke-width="1.2" stroke-linecap="round" /><line x1="1375.0" y1="323.2" x2="1460.0" y2="415.8" stroke="#111" stroke-width="1.2" stroke-linecap="round" /><line x1="1375.0" y1="337.5" x2="1460.0" y2="430.1" stroke="#111" stroke-width="1.2" stroke-linecap="round" /><line x1="1375.0" y1="351.8" x2="1460.0" y2="444.4" stroke="#111" stroke-width="1.2" stroke-linecap="round" /><line x1="1375.0" y1="366.1" x2="1460.0" y2="458.7" stroke="#111" stroke-width="1.2" stroke-linecap="round" /><line x1="1375.0" y1="380.4" x2="1460.0" y2="473.0" stroke="#111" stroke-width="1.2" stroke-linecap="round" /><line x1="1375.0" y1="394.7" x2="1460.0" y2="487.3" stroke="#111" stroke-width="1.2" stroke-linecap="round" /><line x1="1375.0" y1="409.0" x2="1460.0" y2="501.6" stroke="#111" stroke-width="1.2" stroke-linecap="round" /><line x1="1375.0" y1="423.3" x2="1460.0" y2="515.9" stroke="#111" stroke-width="1.2" stroke-linecap="round" /><line x1="1375.0" y1="437.6" x2="1460.0" y2="530.2" stroke="#111" stroke-width="1.2" stroke-linecap="round" /><line x1="1375.0" y1="451.9" x2="1460.0" y2="544.5" stroke="#111" stroke-width="1.2" stroke-linecap="round" /><line x1="1375.0" y1="466.2" x2="1460.0" y2="558.8" stroke="#111" stroke-width="1.2" stroke-linecap="round" /><line x1="1375.0" y1="480.5" x2="1460.0" y2="573.1" stroke="#111" stroke-width="1.2" stroke-linecap="round" /><line x1="1375.0" y1="494.8" x2="1460.0" y2="587.4" stroke="#111" stroke-width="1.2" stroke-linecap="round" /><line x1="1375.0" y1="509.1" x2="1460.0" y2="601.7" stroke="#111" stroke-width="1.2" stroke-linecap="round" /><line x1="1375.0" y1="523.4" x2="1460.0" y2="616.0" stroke="#111" stroke-width="1.2" stroke-linecap="round" /><line x1="1375.0" y1="537.7" x2="1460.0" y2="630.3" stroke="#111" stroke-width="1.2" stroke-linecap="round" /><line x1="1375.0" y1="552.0" x2="1460.0" y2="644.6" stroke="#111" stroke-width="1.2" stroke-linecap="round" /><line x1="1375.0" y1="566.3" x2="1460.0" y2="658.9" stroke="#111" stroke-width="1.2" stroke-linecap="round" /><line x1="1375.0" y1="580.6" x2="1460.0" y2="673.2" stroke="#111" stroke-width="1.2" stroke-linecap="round" /><line x1="1375.0" y1="594.9" x2="1460.0" y2="687.5" stroke="#111" stroke-width="1.2" stroke-linecap="round" /><line x1="1375.0" y1="609.2" x2="1460.0" y2="701.8" stroke="#111" stroke-width="1.2" stroke-linecap="round" /><line x1="1375.0" y1="623.5" x2="1460.0" y2="716.1" stroke="#111" stroke-width="1.2" stroke-linecap="round" /><line x1="1375.0" y1="637.8" x2="1460.0" y2="730.4" stroke="#111" stroke-width="1.2" stroke-linecap="round" /><line x1="1375.0" y1="652.1" x2="1460.0" y2="744.7" stroke="#111" stroke-width="1.2" stroke-linecap="round" /><line x1="1375.0" y1="666.4" x2="1460.0" y2="759.0" stroke="#111" stroke-width="1.2" stroke-linecap="round" /><line x1="1375.0" y1="680.7" x2="1460.0" y2="773.3" stroke="#111" stroke-width="1.2" stroke-linecap="round" /><line x1="1375.0" y1="695.0" x2="1460.0" y2="787.6" stroke="#111" stroke-width="1.2" stroke-linecap="round" /><line x1="1375.0" y1="709.3" x2="1460.0" y2="801.9" stroke="#111" stroke-width="1.2" stroke-linecap="round" /><line x1="1375.0" y1="723.6" x2="1460.0" y2="816.2" stroke="#111" stroke-width="1.2" stroke-linecap="round" /><line x1="1375.0" y1="737.9" x2="1460.0" y2="830.5" stroke="#111" stroke-width="1.2" stroke-linecap="round" /><line x1="1375.0" y1="752.2" x2="1460.0" y2="844.8" stroke="#111" stroke-width="1.2" stroke-linecap="round" /><line x1="1375.0" y1="766.5" x2="1460.0" y2="859.1" stroke="#111" stroke-width="1.2" stroke-linecap="round" /><line x1="1375.0" y1="780.8" x2="1460.0" y2="873.4" stroke="#111" stroke-width="1.2" stroke-linecap="round" /><line x1="1375.0" y1="795.1" x2="1460.0" y2="887.7" stroke="#111" stroke-width="1.2" stroke-linecap="round" /></g>
<path d="M1338.5,323.8 L1330,328 L1327.5,335 L1328,380 L1329.5,400 L1328,420 L1328,520 L1327.4,560 L1330,595 L1330,630 L1331.6,640 L1331.6,660 L1328.2,665 L1328.2,680 L1332.5,690 L1332.5,734 L1420.5,734 L1420.2,695.2 L1441,695.2 L1439.5,690 L1437,682 L1436.5,672 L1437.5,662 L1441,650.8 L1422,650.8 L1422,640 L1424.3,628 L1422.5,595 L1424.3,571 L1426,538 L1426,484 L1427.2,430.2 L1441,430.2 L1440.8,429.3 L1437,421.7 L1435.1,406.5 L1434.2,393.2 L1436.5,380 L1439.9,371.3 L1441.3,370.4 L1428,370.4 L1427.8,339 L1424,330 L1414.5,323.8 Z" fill="#fff" stroke="#111" stroke-width="2.2" stroke-linejoin="round"/>
<line x1="1335.1" y1="590.6" x2="1338.5" y2="590.8" stroke="#8a8a8a" stroke-width="0.8" stroke-linecap="round" /><line x1="1340.1" y1="354.4" x2="1344.1" y2="350.5" stroke="#8a8a8a" stroke-width="0.8" stroke-linecap="round" /><line x1="1344.6" y1="387.7" x2="1340.4" y2="386.7" stroke="#8a8a8a" stroke-width="0.8" stroke-linecap="round" /><line x1="1412.2" y1="715.9" x2="1414.8" y2="717.8" stroke="#8a8a8a" stroke-width="0.8" stroke-linecap="round" /><line x1="1334.6" y1="458.8" x2="1328.0" y2="463.1" stroke="#8a8a8a" stroke-width="0.8" stroke-linecap="round" /><line x1="1411.8" y1="550.9" x2="1414.2" y2="548.5" stroke="#8a8a8a" stroke-width="0.8" stroke-linecap="round" /><line x1="1412.6" y1="460.9" x2="1419.0" y2="460.4" stroke="#8a8a8a" stroke-width="0.8" stroke-linecap="round" /><line x1="1416.1" y1="434.0" x2="1409.6" y2="433.7" stroke="#8a8a8a" stroke-width="0.8" stroke-linecap="round" /><line x1="1410.7" y1="717.4" x2="1407.1" y2="717.9" stroke="#8a8a8a" stroke-width="0.8" stroke-linecap="round" /><line x1="1339.8" y1="355.1" x2="1333.6" y2="351.9" stroke="#8a8a8a" stroke-width="0.8" stroke-linecap="round" /><line x1="1411.1" y1="607.7" x2="1417.6" y2="608.6" stroke="#8a8a8a" stroke-width="0.8" stroke-linecap="round" /><line x1="1419.3" y1="522.5" x2="1414.4" y2="527.5" stroke="#8a8a8a" stroke-width="0.8" stroke-linecap="round" /><line x1="1419.9" y1="656.4" x2="1415.3" y2="657.4" stroke="#8a8a8a" stroke-width="0.8" stroke-linecap="round" /><line x1="1339.5" y1="404.7" x2="1336.9" y2="407.3" stroke="#8a8a8a" stroke-width="0.8" stroke-linecap="round" /><line x1="1336.5" y1="490.5" x2="1342.5" y2="484.9" stroke="#8a8a8a" stroke-width="0.8" stroke-linecap="round" /><line x1="1418.5" y1="655.4" x2="1426.0" y2="652.2" stroke="#8a8a8a" stroke-width="0.8" stroke-linecap="round" /><line x1="1345.4" y1="708.7" x2="1348.6" y2="706.6" stroke="#8a8a8a" stroke-width="0.8" stroke-linecap="round" /><line x1="1339.8" y1="566.8" x2="1342.7" y2="563.2" stroke="#8a8a8a" stroke-width="0.8" stroke-linecap="round" /><line x1="1340.9" y1="706.9" x2="1333.8" y2="706.7" stroke="#8a8a8a" stroke-width="0.8" stroke-linecap="round" /><line x1="1407.7" y1="686.3" x2="1401.7" y2="681.5" stroke="#8a8a8a" stroke-width="0.8" stroke-linecap="round" /><line x1="1338.6" y1="379.9" x2="1343.4" y2="375.0" stroke="#8a8a8a" stroke-width="0.8" stroke-linecap="round" /><line x1="1335.3" y1="470.9" x2="1337.3" y2="468.3" stroke="#8a8a8a" stroke-width="0.8" stroke-linecap="round" /><line x1="1338.1" y1="349.8" x2="1346.2" y2="351.5" stroke="#8a8a8a" stroke-width="0.8" stroke-linecap="round" /><line x1="1337.9" y1="480.2" x2="1334.8" y2="478.0" stroke="#8a8a8a" stroke-width="0.8" stroke-linecap="round" /><line x1="1339.8" y1="373.1" x2="1343.2" y2="372.1" stroke="#8a8a8a" stroke-width="0.8" stroke-linecap="round" /><line x1="1409.1" y1="348.9" x2="1417.8" y2="349.3" stroke="#8a8a8a" stroke-width="0.8" stroke-linecap="round" /><line x1="1407.4" y1="543.3" x2="1400.3" y2="537.9" stroke="#8a8a8a" stroke-width="0.8" stroke-linecap="round" /><line x1="1338.1" y1="404.3" x2="1330.5" y2="403.9" stroke="#8a8a8a" stroke-width="0.8" stroke-linecap="round" /><line x1="1336.1" y1="652.4" x2="1328.9" y2="647.1" stroke="#8a8a8a" stroke-width="0.8" stroke-linecap="round" /><line x1="1416.6" y1="427.3" x2="1422.5" y2="425.7" stroke="#8a8a8a" stroke-width="0.8" stroke-linecap="round" /><line x1="1336.9" y1="439.8" x2="1341.8" y2="445.0" stroke="#8a8a8a" stroke-width="0.8" stroke-linecap="round" /><line x1="1419.8" y1="707.7" x2="1424.4" y2="705.2" stroke="#8a8a8a" stroke-width="0.8" stroke-linecap="round" /><line x1="1335.9" y1="580.3" x2="1342.7" y2="585.1" stroke="#8a8a8a" stroke-width="0.8" stroke-linecap="round" /><line x1="1417.4" y1="372.6" x2="1412.2" y2="368.0" stroke="#8a8a8a" stroke-width="0.8" stroke-linecap="round" /><circle cx="1413.3" cy="408.7" r="0.9" fill="#333"/><circle cx="1411.7" cy="648.3" r="0.9" fill="#333"/><circle cx="1412.4" cy="494.5" r="0.9" fill="#333"/><circle cx="1416.0" cy="405.5" r="0.9" fill="#333"/><circle cx="1335.8" cy="688.4" r="0.9" fill="#333"/><circle cx="1409.6" cy="658.2" r="0.9" fill="#333"/><circle cx="1415.2" cy="474.9" r="0.9" fill="#333"/><circle cx="1409.4" cy="345.5" r="0.9" fill="#333"/><circle cx="1415.1" cy="542.7" r="0.9" fill="#333"/><circle cx="1412.8" cy="675.6" r="0.9" fill="#333"/><circle cx="1410.3" cy="437.0" r="0.9" fill="#333"/><circle cx="1336.9" cy="565.8" r="0.9" fill="#333"/><circle cx="1339.0" cy="390.5" r="0.9" fill="#333"/><circle cx="1411.9" cy="516.4" r="0.9" fill="#333"/><circle cx="1417.9" cy="501.9" r="0.9" fill="#333"/><circle cx="1413.5" cy="544.8" r="0.9" fill="#333"/><path d="M1333.0,360.0 L1338.0,366.0 L1336.0,372.0 L1342.0,378.0" fill="none" stroke="#7a7a7a" stroke-width="0.8" stroke-linejoin="round" stroke-linecap="round"/><path d="M1410.0,445.0 L1415.0,452.0 L1413.0,460.0 L1418.0,468.0" fill="none" stroke="#7a7a7a" stroke-width="0.8" stroke-linejoin="round" stroke-linecap="round"/><path d="M1408.0,480.0 L1412.0,488.0 L1410.0,497.0" fill="none" stroke="#7a7a7a" stroke-width="0.8" stroke-linejoin="round" stroke-linecap="round"/><path d="M1412.0,520.0 L1417.0,530.0 L1415.0,545.0 L1420.0,552.0" fill="none" stroke="#7a7a7a" stroke-width="0.8" stroke-linejoin="round" stroke-linecap="round"/><path d="M1334.0,470.0 L1340.0,476.0 L1337.0,485.0" fill="none" stroke="#7a7a7a" stroke-width="0.8" stroke-linejoin="round" stroke-linecap="round"/><path d="M1336.0,540.0 L1342.0,548.0 L1339.0,556.0 L1345.0,566.0" fill="none" stroke="#7a7a7a" stroke-width="0.8" stroke-linejoin="round" stroke-linecap="round"/><path d="M1409.0,600.0 L1414.0,606.0 L1411.0,615.0" fill="none" stroke="#7a7a7a" stroke-width="0.8" stroke-linejoin="round" stroke-linecap="round"/><path d="M1334.0,610.0 L1339.0,620.0" fill="none" stroke="#7a7a7a" stroke-width="0.8" stroke-linejoin="round" stroke-linecap="round"/><path d="M1416.0,385.0 L1422.0,392.0 L1418.0,400.0" fill="none" stroke="#7a7a7a" stroke-width="0.8" stroke-linejoin="round" stroke-linecap="round"/><path d="M1335.0,690.0 L1340.0,697.0 L1338.0,706.0" fill="none" stroke="#7a7a7a" stroke-width="0.8" stroke-linejoin="round" stroke-linecap="round"/><path d="M1411.0,640.0 L1416.0,648.0" fill="none" stroke="#7a7a7a" stroke-width="0.8" stroke-linejoin="round" stroke-linecap="round"/><path d="M1330.0,425.0 L1336.0,430.0 L1334.0,440.0" fill="none" stroke="#7a7a7a" stroke-width="0.8" stroke-linejoin="round" stroke-linecap="round"/><path d="M1406.0,700.0 L1412.0,706.0 L1410.0,716.0" fill="none" stroke="#7a7a7a" stroke-width="0.8" stroke-linejoin="round" stroke-linecap="round"/>
<rect x="1353.4" y="252.5" width="46.6" height="70.5" fill="#fff"/>
<line x1="1353.4" y1="252.0" x2="1353.4" y2="323.5" stroke="#111" stroke-width="2.8" stroke-linecap="round" /><line x1="1400.0" y1="252.0" x2="1400.0" y2="323.5" stroke="#111" stroke-width="2.8" stroke-linecap="round" />
<line x1="1353.4" y1="254.5" x2="1400.0" y2="254.5" stroke="#333" stroke-width="2.0" stroke-linecap="round" />
<path d="M1441.3,370.4 L1441.3,251.6 L1313.1,251.6 L1313.1,734.5 L1349,734.5" fill="none" stroke="#111" stroke-width="2.4"/>
<path d="M1405,734.5 L1441.3,734.5 L1441.3,695" fill="none" stroke="#111" stroke-width="2.4"/>
<path d="M1441.3,650 L1441.3,430.2" fill="none" stroke="#111" stroke-width="2.4"/>
<path d="M1351.5,252 L1351.5,80 M1375.5,77 C1378,70.5 1385,70.3 1390,70.6 C1398,71 1402.7,77 1402.9,86 L1402.9,252" fill="none" stroke="#111" stroke-width="4.6"/>
<circle cx="1364.5" cy="78" r="11.8" fill="#fff" stroke="#111" stroke-width="2.6"/>
<line x1="1358.0" y1="71.0" x2="1366.0" y2="78.0" stroke="#555" stroke-width="0.9" stroke-linecap="round" />
<path d="M1360.8,101.3 Q1379.7,98.3 1393.1,84.7 Q1374.2,87.7 1360.8,101.3Z" fill="#fff" stroke="#111" stroke-width="2.8" stroke-linejoin="round"/>
<path d="M1360.8,159.3 Q1379.7,156.3 1393.1,142.7 Q1374.2,145.7 1360.8,159.3Z" fill="#fff" stroke="#111" stroke-width="2.8" stroke-linejoin="round"/>
<path d="M1360.8,216.3 Q1379.7,213.3 1393.1,199.7 Q1374.2,202.7 1360.8,216.3Z" fill="#fff" stroke="#111" stroke-width="2.8" stroke-linejoin="round"/>
<path d="M1351.5,905 L1351.5,331.9 L1403,331.9 L1403,908" fill="#fff" stroke="#111" stroke-width="4.5"/>
<path d="M1351.5,895 L1351.5,910 M1376,912 C1378,919.5 1385,920 1390,919.8 C1398,919.5 1403,913 1403,905 L1403,895" fill="none" stroke="#111" stroke-width="4.4"/>
<circle cx="1364.5" cy="913.6" r="11.8" fill="#fff" stroke="#111" stroke-width="2.6"/>
<line x1="1359.0" y1="920.0" x2="1368.0" y2="910.0" stroke="#555" stroke-width="0.9" stroke-linecap="round" />
<path d="M1359.4,344.2 Q1373.4,358.7 1392.9,363.8 Q1378.9,349.3 1359.4,344.2Z" fill="#fff" stroke="#111" stroke-width="2.3" stroke-linejoin="round"/>
<path d="M1359.4,401.2 Q1373.4,415.7 1392.9,420.8 Q1378.9,406.3 1359.4,401.2Z" fill="#fff" stroke="#111" stroke-width="2.3" stroke-linejoin="round"/>
<path d="M1359.4,457.2 Q1373.4,471.7 1392.9,476.8 Q1378.9,462.3 1359.4,457.2Z" fill="#fff" stroke="#111" stroke-width="2.3" stroke-linejoin="round"/>
<path d="M1359.4,515.2 Q1373.4,529.7 1392.9,534.8 Q1378.9,520.3 1359.4,515.2Z" fill="#fff" stroke="#111" stroke-width="2.3" stroke-linejoin="round"/>
<path d="M1359.4,572.2 Q1373.4,586.7 1392.9,591.8 Q1378.9,577.3 1359.4,572.2Z" fill="#fff" stroke="#111" stroke-width="2.3" stroke-linejoin="round"/>
<path d="M1359.4,629.2 Q1373.4,643.7 1392.9,648.8 Q1378.9,634.3 1359.4,629.2Z" fill="#fff" stroke="#111" stroke-width="2.3" stroke-linejoin="round"/>
<path d="M1359.4,686.2 Q1373.4,700.7 1392.9,705.8 Q1378.9,691.3 1359.4,686.2Z" fill="#fff" stroke="#111" stroke-width="2.3" stroke-linejoin="round"/>
<path d="M1359.4,743.2 Q1373.4,757.7 1392.9,762.8 Q1378.9,748.3 1359.4,743.2Z" fill="#fff" stroke="#111" stroke-width="2.3" stroke-linejoin="round"/>
<path d="M1359.4,800.2 Q1373.4,814.7 1392.9,819.8 Q1378.9,805.3 1359.4,800.2Z" fill="#555" stroke="#111" stroke-width="2.3" stroke-linejoin="round"/>
<path d="M1359.4,858.2 Q1373.4,872.7 1392.9,877.8 Q1378.9,863.3 1359.4,858.2Z" fill="#555" stroke="#111" stroke-width="2.3" stroke-linejoin="round"/>
<line x1="1377.5" y1="30.0" x2="1377.5" y2="60.5" stroke="#666" stroke-width="1.0" stroke-linecap="round" /><line x1="1377.5" y1="84.0" x2="1377.5" y2="324.0" stroke="#777" stroke-width="1.0" stroke-linecap="round" /><line x1="1377.5" y1="332.0" x2="1377.5" y2="951.0" stroke="#777" stroke-width="1.0" stroke-linecap="round" />
<line x1="1408.2" y1="673.0" x2="1453.2" y2="673.0" stroke="#888" stroke-width="1.0" stroke-linecap="round" />
<line x1="1676.0" y1="321.3" x2="1435.0" y2="393.2" stroke="#111" stroke-width="1.6" stroke-linecap="round" />
<line x1="1414.2" y1="400.8" x2="1436.1" y2="378.9" stroke="#111" stroke-width="1.6" stroke-linecap="round" /><line x1="1414.2" y1="400.8" x2="1431.3" y2="401.7" stroke="#111" stroke-width="1.6" stroke-linecap="round" /><line x1="1421.0" y1="399.8" x2="1431.0" y2="394.5" stroke="#111" stroke-width="1.3" stroke-linecap="round" />
<line x1="1422.8" y1="416.0" x2="1433.0" y2="404.6" stroke="#5a6a85" stroke-width="1.0" stroke-linecap="round" /><line x1="1435.0" y1="402.7" x2="1449.4" y2="399.8" stroke="#5a6a85" stroke-width="1.0" stroke-linecap="round" /><line x1="1435.0" y1="403.6" x2="1446.4" y2="408.4" stroke="#5a6a85" stroke-width="1.2" stroke-linecap="round" />
<line x1="1559.0" y1="510.2" x2="1443.6" y2="579.6" stroke="#111" stroke-width="1.8" stroke-linecap="round" />
<line x1="1443.6" y1="579.6" x2="1455.0" y2="553.7" stroke="#111" stroke-width="1.5" stroke-linecap="round" /><line x1="1443.6" y1="579.6" x2="1472.6" y2="581.0" stroke="#111" stroke-width="1.5" stroke-linecap="round" />
<text x="1647.2" y="290.7" font-size="17.7" textLength="143.3" lengthAdjust="spacingAndGlyphs">grouting material</text>
<text x="1569.3" y="507" font-size="30.8" textLength="90" lengthAdjust="spacingAndGlyphs">sleeve</text>
<text x="1306.6" y="1007" font-size="27" textLength="270" lengthAdjust="spacingAndGlyphs">Full grout connection</text>
</svg></body></html>
